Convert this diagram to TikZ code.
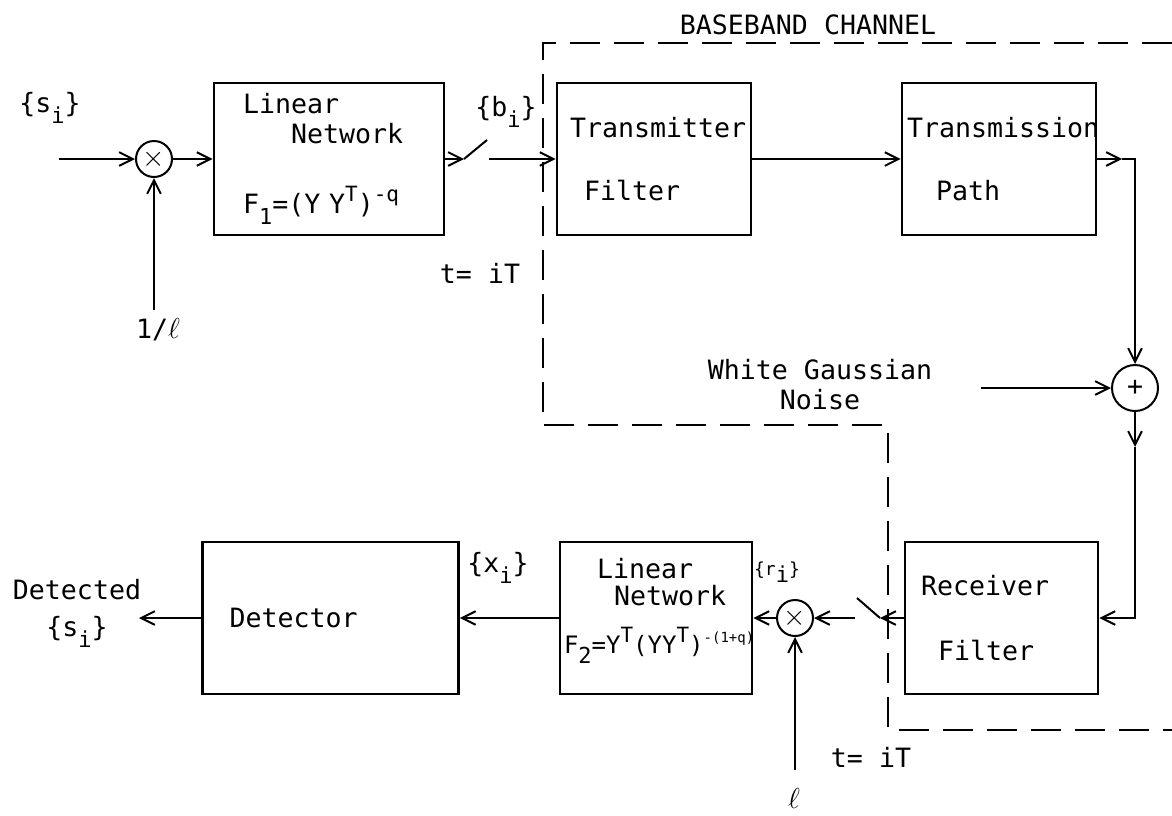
\documentclass[tikz,border=0pt]{standalone}
\usepackage{fontspec}
\setmainfont{DejaVu Sans Mono}
\usetikzlibrary{arrows.meta}
\newcommand{\lowsub}[1]{\raisebox{-0.75ex}{\fontsize{11}{12}\selectfont #1}}
\newcommand{\highsup}[1]{\raisebox{0.85ex}{\fontsize{10.5}{12}\selectfont #1}}

\begin{document}
\begin{tikzpicture}[x=0.5pt,y=-0.5pt,font=\fontsize{13.3}{15}\selectfont,
  block/.style={draw,line width=1.3pt,align=left,inner ysep=0pt,minimum height=76pt},
  junction/.style={circle,draw,line width=1pt,inner sep=0pt,minimum size=18pt},
  arr/.style={-{Straight Barb[length=2.4mm,width=2.4mm]},line width=1pt},
  wire/.style={line width=1pt},
  chan/.style={line width=1pt,dash pattern=on 15pt off 7pt}]
  \useasboundingbox (0,0) rectangle (1172,815);

  % transmit side
  \node[block,text width=86pt,inner xsep=14.5pt] (net1) at (329,159)
    {Linear\\\hspace*{24pt}Network\\[20pt]F\lowsub{1}=(Y Y\highsup{T})\highsup{-q}};
  \node[block,text width=84pt,inner xsep=6.5pt] (tx) at (654,159)
    {\mbox{Transmitter}\\[16.5pt]\hspace*{7pt}Filter};
  \node[block,text width=92pt,inner xsep=2.5pt] (tp) at (999,159)
    {\mbox{Transmission}\\[16.5pt]\hspace*{14.5pt}Path};
  \node[junction] (mul1) at (154,159) {$\times$};
  \node[junction,minimum size=23pt] (sum) at (1135,388) {+};

  % receive side
  \node[block,text width=80.5pt,inner xsep=8pt] (rx) at (1001.5,618)
    {Receiver\\[17.5pt]\hspace*{8.5pt}Filter};
  \node[block,text width=92pt,inner xsep=2pt] (net2) at (656,618)
    {\hspace*{16.5pt}Linear\\[-1.5pt]\hspace*{25pt}Network\\[9pt]{\fontsize{12}{14}\selectfont
     F\lowsub{2}=Y\highsup{T}(YY\highsup{T})\highsup{\scriptsize-(1+q)}}\\[-3pt]\mbox{}};
  \node[block,text width=101pt,inner xsep=13.5pt] (det) at (330.5,618) {Detector};
  \node[junction] (mul2) at (795,618) {$\times$};

  \coordinate (src) at (59,159);
  \coordinate (gain1) at (154,310);
  \coordinate (sw1) at (464,159);
  \coordinate (sw1t) at (487,140);
  \coordinate (sw1o) at (489,159);
  \coordinate (tpbend) at (1122,159);
  \coordinate (noise) at (981,388);
  \coordinate (summid) at (1135,447);
  \coordinate (sw2) at (880,618);
  \coordinate (sw2t) at (857,598);
  \coordinate (sw2o) at (855,618);
  \coordinate (gain2) at (795,770);
  \coordinate (sink) at (139,618);

  \draw[arr] (src) -- (mul1);
  \draw[arr] (gain1) -- (mul1);
  \draw[arr] (mul1) -- (net1);
  \draw[arr] (net1) -- (sw1);
  \draw[wire] (sw1) -- (sw1t);
  \draw[arr] (sw1o) -- (tx);
  \draw[arr] (tx) -- (tp);
  \draw[arr] (tp) -- (tpbend);
  \draw[arr] (tpbend) -| (sum);
  \draw[arr] (noise) -- (sum);
  \draw[arr] (sum) -- (summid);
  \draw[arr] (summid) |- (rx);
  \draw[arr] (rx) -- (sw2);
  \draw[wire] (sw2) -- (sw2t);
  \draw[arr] (sw2o) -- (mul2);
  \draw[arr] (gain2) -- (mul2);
  \draw[arr] (mul2) -- (net2);
  \draw[arr] (net2) -- (det);
  \draw[arr] (det) -- (sink);

  % channel boundary
  \draw[chan] (1172,43) -- (543,43) -- (543,425) -- (888,425) -- (888,730) -- (1172,730);

  % labels
  \node (sin) at (50,108) {\{s\lowsub{i}\}};
  \node (inv) at (158,330) {1/\Large$\ell$};
  \node (bseq) at (506,112) {\{b\lowsub{i}\}};
  \node (t1) at (480,273) {t= iT};
  \node (chanlbl) at (808,25) {BASEBAND CHANNEL};
  \node[align=center] (wgn) at (820,385) {White Gaussian\\Noise};
  \node (xseq) at (498,568) {\{x\lowsub{i}\}};
  \node[font=\small] (rseq) at (777,572) {\{r\lowsub{i}\}};
  \node[align=center] (outlbl) at (77,613) {Detected\\[3.5pt]\{s\lowsub{i}\}};
  \node (t2) at (871,757) {t= iT};
  \node[font=\Large] (gainlbl) at (794,798) {$\ell$};
\end{tikzpicture}
\end{document}
